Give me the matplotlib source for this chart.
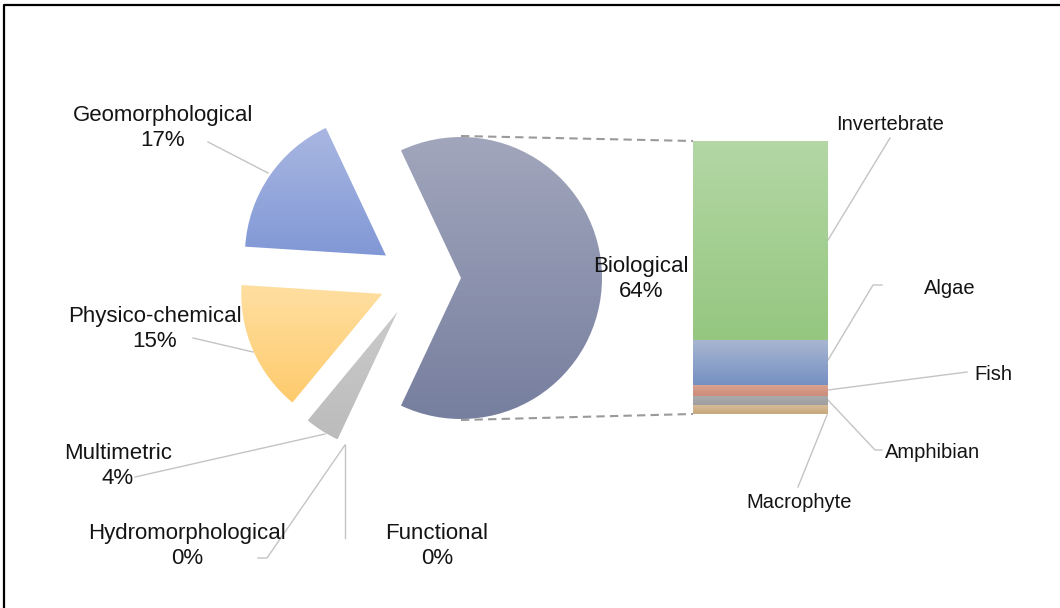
import numpy as np
import matplotlib.pyplot as plt
from matplotlib.colors import to_rgb

plt.rcParams['font.family'] = ['Liberation Sans', 'DejaVu Sans']

# pie: share of indices by type (%)
groups = ["Biological", "Geomorphological", "Physico-chemical", "Multimetric",
          "Hydromorphological", "Functional"]
shares = [64, 17, 15, 4, 0, 0]

# bar: split of the biological share (%), bottom to top
taxa = ["Macrophyte", "Amphibian", "Fish", "Algae", "Invertebrate"]
taxa_shares = [2.0, 2.3, 2.6, 10.4, 46.7]

pie_top = ["#a1a6bc", "#a9b7e1", "#ffdfa1", "#cacaca", "#cacaca", "#cacaca"]
pie_bot = ["#777f9f", "#8198d6", "#fecb6c", "#bcbcbc", "#bcbcbc", "#bcbcbc"]
bar_top = ["#d6bc98", "#acacae", "#dba494", "#a8b6d2", "#b4d7a5"]
bar_bot = ["#c7a87c", "#9e9ea2", "#cc8c78", "#7690c2", "#95c780"]

W, H = 1060, 608
LEAD = "#c4c4c4"


def gradient(ax, patch, c_top, c_bot):
    path = patch.get_patch_transform().transform_path(patch.get_path())
    ext = path.get_extents()
    t = np.linspace(0, 1, 256)[:, None, None]
    img = (1 - t) * np.array(to_rgb(c_top)) + t * np.array(to_rgb(c_bot))
    im = ax.imshow(img, extent=(ext.x0, ext.x1, ext.y0, ext.y1), origin="upper",
                   aspect="auto", interpolation="bilinear", zorder=patch.get_zorder())
    im.set_clip_path(patch)
    patch.set_facecolor("none")


fig = plt.figure(figsize=(W / 100, H / 100), dpi=100)
ax = fig.add_axes([0, 0, 1, 1])

# explode is in data units here (pixels)
wedges, _ = ax.pie(shares, explode=[42, 40, 40, 40, 0, 0],
                   startangle=-shares[0] * 3.6 / 2, center=(419, H - 278), radius=141,
                   counterclock=True, wedgeprops=dict(linewidth=0))
for w, s, ct, cb in zip(wedges, shares, pie_top, pie_bot):
    if s == 0:
        w.set_visible(False)
    else:
        gradient(ax, w, ct, cb)

ax.set_xlim(0, W)
ax.set_ylim(0, H)
ax.set_aspect("auto")
ax.axis("off")

# frame (top and left edges only visible)
ax.plot([4, 4, W], [0, H - 5, H - 5], color="black", lw=1.6, solid_capstyle="butt")

# connectors pie -> bar
ax.plot([461, 693], [H - 136, H - 141], color="#9a9a9a", lw=1.5, ls=(0, (4, 2.5)))
ax.plot([461, 693], [H - 420, H - 414], color="#9a9a9a", lw=1.5, ls=(0, (4, 2.5)))

# pie labels
pie_pos = {
    "Biological": (641, 279),
    "Geomorphological": (163, 128),
    "Physico-chemical": (155, 329),
    "Multimetric": (118, 466),
    "Hydromorphological": (187, 546),
    "Functional": (437, 546),
}
for g, s in zip(groups, shares):
    x, y = pie_pos[g]
    ax.text(x, H - y, f"{g}\n{s}%", ha="center", va="center", fontsize=16,
            linespacing=1.25, color="#141414")

pie_leaders = [
    [(208, 142), (268, 173)],
    [(193, 338), (253, 352)],
    [(135, 477), (325, 434)],
    [(258, 558), (267, 558), (345, 445)],
    [(345, 445), (345, 538)],
]
bar_leaders = [
    [(890, 138), (828, 240)],
    [(828, 360), (873, 285), (882, 285)],
    [(828, 390), (967, 372)],
    [(828, 400), (875, 450), (882, 450)],
    [(827, 415), (798, 487)],
]
for pts in pie_leaders + bar_leaders:
    xs, ys = zip(*pts)
    ax.plot(xs, [H - v for v in ys], color=LEAD, lw=1.0)

# bar labels
bar_pos = {
    "Invertebrate": (890, 125),
    "Algae": (950, 288),
    "Fish": (993, 375),
    "Amphibian": (933, 453),
    "Macrophyte": (799, 503),
}
for t in taxa:
    x, y = bar_pos[t]
    ax.text(x, H - y, t, ha="center", va="center", fontsize=14.5, color="#141414")

# stacked bar
bx = fig.add_axes([693 / W, (H - 414) / H, 135 / W, 273 / H])
bottom = 0
for v, ct, cb in zip(taxa_shares, bar_top, bar_bot):
    rect = bx.bar(0, v, width=1, bottom=bottom, linewidth=0)[0]
    gradient(bx, rect, ct, cb)
    bottom += v
bx.set_xlim(-0.5, 0.5)
bx.set_ylim(0, sum(taxa_shares))
bx.axis("off")

fig.savefig("out.png", dpi=100)
